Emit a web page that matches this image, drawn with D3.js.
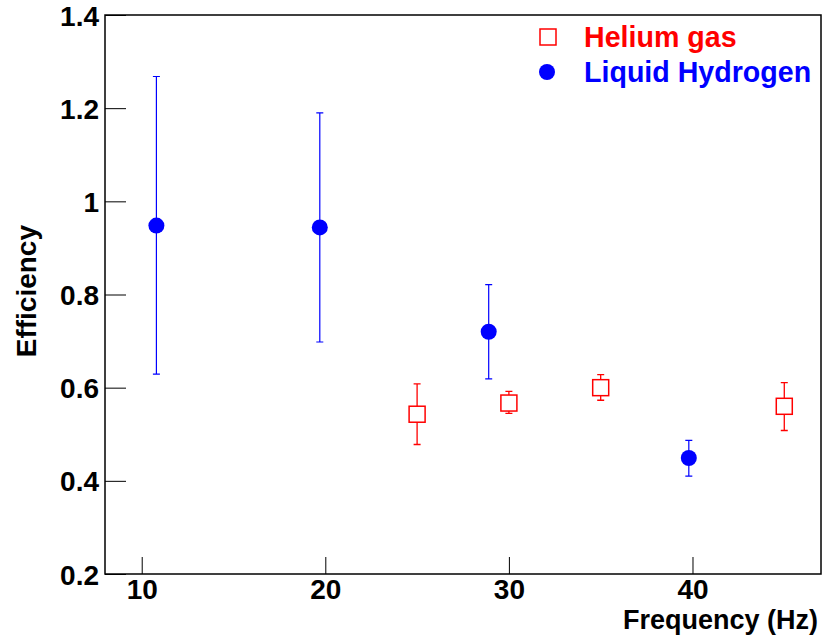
<!DOCTYPE html>
<html>
<head>
<meta charset="utf-8">
<title>Efficiency vs Frequency</title>
<script src="https://d3js.org/d3.v7.min.js"></script>
<style>
body { margin: 0; background: #fff; }
text { font-family: "Liberation Sans", Arial, sans-serif; font-weight: bold; }
</style>
</head>
<body>
<script type="text/javascript">

// Helium gas (open red squares)
var heFreq = [25, 30, 35, 45];
var heEff  = [0.543, 0.567, 0.600, 0.560];
var heLo   = [0.478, 0.545, 0.573, 0.508];
var heHi   = [0.608, 0.592, 0.628, 0.611];

// Liquid hydrogen (filled blue circles)
var h2Freq = [10.8, 19.7, 28.9, 39.8];
var h2Eff  = [0.948, 0.944, 0.720, 0.449];
var h2Lo   = [0.629, 0.698, 0.619, 0.410];
var h2Hi   = [1.268, 1.190, 0.821, 0.487];

var xMajor = [10, 20, 30, 40];
var yMajor = [0.2, 0.4, 0.6, 0.8, 1, 1.2, 1.4];

var width = 824;
var height = 644;

var svg = d3.select("body")
            .append("svg")
            .attr("width", width)
            .attr("height", height);

var x = d3.scaleLinear().domain([8, 47]).range([105, 821]);
var y = d3.scaleLinear().domain([0.2, 1.4]).range([574, 15]);

var xMinor = d3.range(8, 47, 2).filter(function(v){ return xMajor.indexOf(v) < 0; });
var yMinor = d3.range(0, 25).map(function(i){ return Math.round((0.2 + i * 0.05) * 100) / 100; })
               .filter(function(v){ return v < 1.4 && yMajor.indexOf(v) < 0; });

// axes
var gx = svg.append("g").attr("transform", "translate(0," + y.range()[0] + ")");
gx.call(d3.axisBottom(x).tickValues(xMinor).tickSize(-8.5).tickFormat(""));
gx.call(d3.axisBottom(x).tickValues(xMajor).tickSize(-17).tickPadding(5)
        .tickFormat(d3.format("d")));

var gy = svg.append("g").attr("transform", "translate(" + x.range()[0] + ",0)");
gy.call(d3.axisLeft(y).tickValues(yMinor).tickSize(-10).tickFormat(""));
gy.call(d3.axisLeft(y).tickValues(yMajor).tickSize(-21).tickPadding(6)
        .tickFormat(function(d){ return String(d); }));

svg.selectAll(".domain").remove();
svg.selectAll(".tick line").attr("stroke", "#000").attr("stroke-width", 1);
svg.selectAll(".tick text")
   .attr("font-size", 28)
   .attr("font-family", "Liberation Sans, Arial, sans-serif")
   .attr("font-weight", "bold")
   .attr("fill", "#000");
gy.selectAll(".tick text").attr("dy", "0.36em");
gx.selectAll(".tick text").attr("dy", "0.71em");

// frame
svg.append("rect")
   .attr("x", x.range()[0])
   .attr("y", y.range()[1])
   .attr("width", x.range()[1] - x.range()[0])
   .attr("height", y.range()[0] - y.range()[1])
   .attr("fill", "none")
   .attr("stroke", "#000")
   .attr("stroke-width", 1.5);

// axis titles
svg.append("text")
   .attr("x", 818)
   .attr("y", 629)
   .attr("text-anchor", "end")
   .attr("font-size", 27)
   .text("Frequency (Hz)");

svg.append("text")
   .attr("transform", "translate(36,225) rotate(-90)")
   .attr("text-anchor", "end")
   .attr("font-size", 28)
   .text("Efficiency");

var half = 8;
var cap = 3.5;

// helium points
var he = heFreq.map(function(f, i){
    return {x: f, y: heEff[i], lo: heLo[i], hi: heHi[i]};
});
var gHe = svg.append("g").attr("stroke", "#ff0000").attr("fill", "none");
gHe.selectAll(".hi").data(he).enter().append("path")
   .attr("stroke-width", 1.3)
   .attr("d", function(d){
       var cx = x(d.x), cy = y(d.y);
       return "M" + cx + "," + (cy - half) + "V" + y(d.hi) +
              "M" + (cx - cap) + "," + y(d.hi) + "H" + (cx + cap) +
              "M" + cx + "," + (cy + half) + "V" + y(d.lo) +
              "M" + (cx - cap) + "," + y(d.lo) + "H" + (cx + cap);
   });
gHe.selectAll("rect").data(he).enter().append("rect")
   .attr("x", function(d){ return x(d.x) - half; })
   .attr("y", function(d){ return y(d.y) - half; })
   .attr("width", 2 * half)
   .attr("height", 2 * half)
   .attr("stroke-width", 1.5);

// hydrogen points
var h2 = h2Freq.map(function(f, i){
    return {x: f, y: h2Eff[i], lo: h2Lo[i], hi: h2Hi[i]};
});
var gH2 = svg.append("g");
gH2.selectAll("path").data(h2).enter().append("path")
   .attr("stroke", "#0000ff")
   .attr("stroke-width", 1.2)
   .attr("fill", "none")
   .attr("d", function(d){
       var cx = x(d.x);
       return "M" + cx + "," + y(d.hi) + "V" + y(d.lo) +
              "M" + (cx - cap) + "," + y(d.hi) + "H" + (cx + cap) +
              "M" + (cx - cap) + "," + y(d.lo) + "H" + (cx + cap);
   });
gH2.selectAll("circle").data(h2).enter().append("circle")
   .attr("cx", function(d){ return x(d.x); })
   .attr("cy", function(d){ return y(d.y); })
   .attr("r", 8)
   .attr("fill", "#0000ff");

// legend
var legend = svg.append("g");
legend.append("rect")
      .attr("x", 548 - half).attr("y", 37 - half)
      .attr("width", 2 * half).attr("height", 2 * half)
      .attr("fill", "none").attr("stroke", "#ff0000").attr("stroke-width", 1.5);
legend.append("text")
      .attr("x", 584).attr("y", 47)
      .attr("font-size", 28.6).attr("fill", "#ff0000")
      .text("Helium gas");
legend.append("circle")
      .attr("cx", 547).attr("cy", 72).attr("r", 8)
      .attr("fill", "#0000ff");
legend.append("text")
      .attr("x", 584).attr("y", 82)
      .attr("font-size", 28.6).attr("fill", "#0000ff")
      .text("Liquid Hydrogen");

</script>
</body>
</html>
